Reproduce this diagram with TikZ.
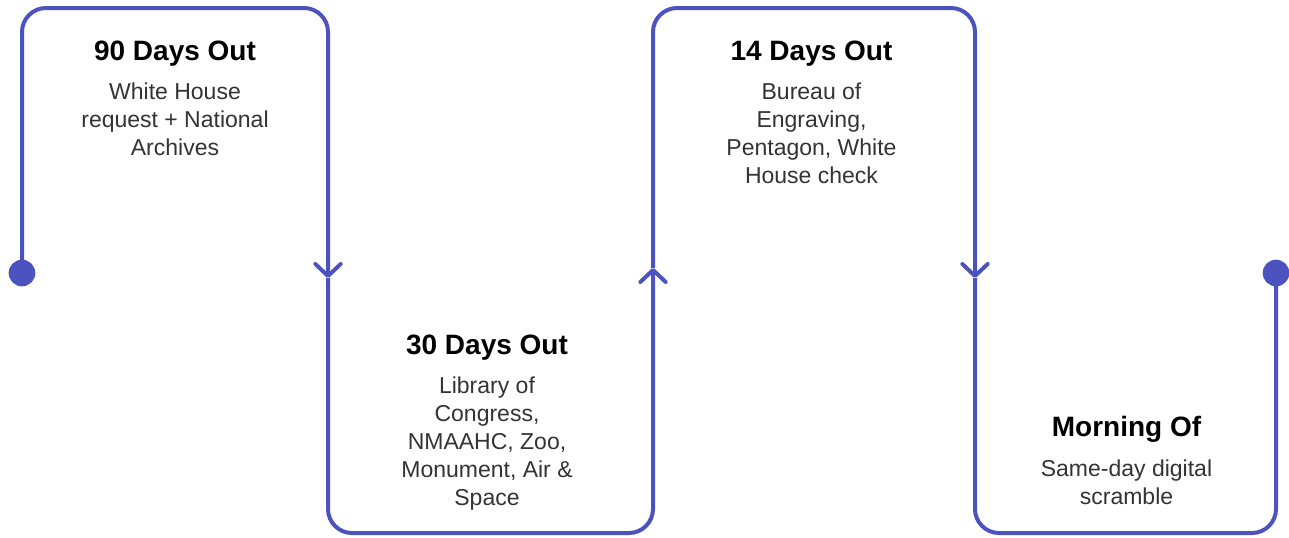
\documentclass[tikz,border=0pt]{standalone}
\usepackage{fontspec}
\setmainfont{Liberation Sans}
\definecolor{pathblue}{RGB}{76, 83, 191}
\definecolor{bodygray}{RGB}{51, 51, 51}
\usetikzlibrary{arrows.meta, positioning}

\begin{document}
\begin{tikzpicture}[x=0.75pt, y=-0.75pt,
  flow/.style={draw=pathblue, line width=3pt, rounded corners=18pt},
  chevron/.style={-{Straight Barb[length=9pt, width=19pt, round]}},
  dot/.style={circle, fill=pathblue, inner sep=0pt, minimum size=20pt},
  stagetitle/.style={font=\fontsize{21}{25}\selectfont\bfseries, anchor=base, inner sep=0pt},
  stagetext/.style={font=\fontsize{17.25}{21}\selectfont, text=bodygray, align=center, anchor=north, inner sep=0pt}]
  \useasboundingbox (0,0) rectangle (1289,537);

  % End points and turning points of the line
  \node[dot] (start) at (22,273) {};
  \node[dot] (finish) at (1276,273) {};
  \coordinate (c1) at (22,8);
  \coordinate (c2) at (328,8);
  \coordinate (a1) at (328,278);
  \coordinate (c3) at (328,533);
  \coordinate (c4) at (653,533);
  \coordinate (a2) at (653,268);
  \coordinate (c5) at (653,8);
  \coordinate (c6) at (975,8);
  \coordinate (a3) at (975,278);
  \coordinate (c7) at (975,533);
  \coordinate (c8) at (1276,533);

  % The winding line
  \draw[flow, chevron] (start.center) -- (c1) -- (c2) -- (a1);
  \draw[flow, chevron] (a1) -- (c3) -- (c4) -- (a2);
  \draw[flow, chevron] (a2) -- (c5) -- (c6) -- (a3);
  \draw[flow] (a3) -- (c7) -- (c8) -- (finish.center);

  % Stages
  \node[stagetitle] (t90) at (175,60) {90 Days Out};
  \node[stagetext] (d90) at (175,83) {White House\\request + National\\Archives};

  \node[stagetitle] (t30) at (487,354) {30 Days Out};
  \node[stagetext] (d30) at (487,377) {Library of\\Congress,\\NMAAHC, Zoo,\\Monument, Air \&\\Space};

  \node[stagetitle] (t14) at (811.5,60) {14 Days Out};
  \node[stagetext] (d14) at (811.5,83) {Bureau of\\Engraving,\\Pentagon, White\\House check};

  \node[stagetitle] (tmo) at (1126.5,436) {Morning Of};
  \node[stagetext] (dmo) at (1126.5,460) {Same-day digital\\scramble};
\end{tikzpicture}
\end{document}
